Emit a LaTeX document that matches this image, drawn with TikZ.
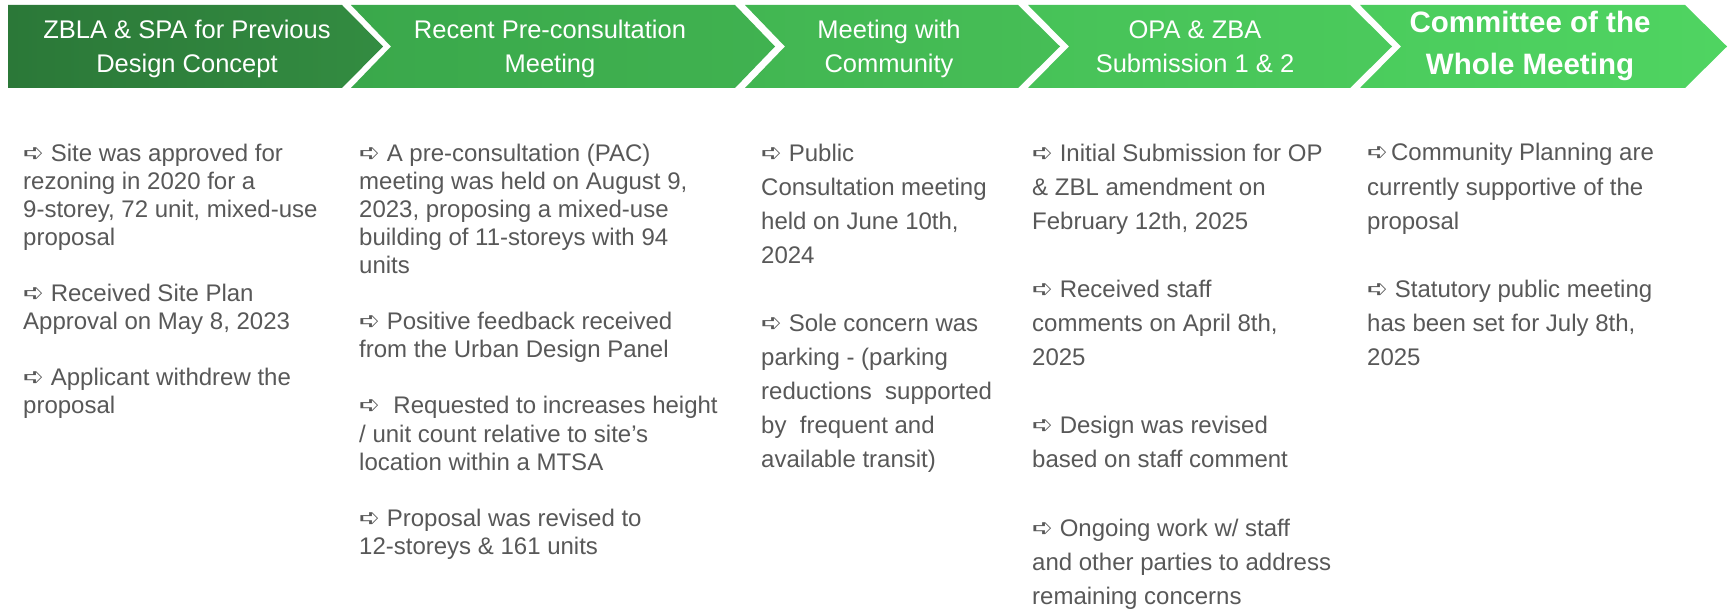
\documentclass[tikz,border=0pt]{standalone}
\usepackage{fontspec}
\setmainfont{Liberation Sans}
\newfontfamily\dejavu{DejaVu Sans}
\definecolor{txt}{RGB}{88,88,88}
\definecolor{gA1}{RGB}{43,120,56}
\definecolor{gA2}{RGB}{51,140,65}
\definecolor{gB1}{RGB}{58,168,75}
\definecolor{gB2}{RGB}{64,178,80}
\definecolor{gC1}{RGB}{66,182,82}
\definecolor{gC2}{RGB}{70,190,86}
\definecolor{gD1}{RGB}{71,194,88}
\definecolor{gD2}{RGB}{75,202,92}
\definecolor{gE1}{RGB}{75,204,93}
\definecolor{gE2}{RGB}{79,212,97}
\newcommand\arr{{\dejavu\fontsize{25}{25}\selectfont ➪}}
\begin{document}
\begin{tikzpicture}[x=1pt,y=-1pt,
  hdr/.style={text=white, align=center, anchor=base, inner sep=0pt, font=\fontsize{25.5}{33.5}\selectfont},
  hdrb/.style={text=white, align=center, anchor=base, inner sep=0pt, font=\fontsize{29.5}{42}\selectfont\bfseries},
  bodyA/.style={text=txt, align=left, anchor=base west, inner sep=0pt, font=\fontsize{24}{28.1}\selectfont},
  bodyB/.style={text=txt, align=left, anchor=base west, inner sep=0pt, font=\fontsize{24}{34.1}\selectfont}]
\fill[white] (0,0) rectangle (1733,609);
\useasboundingbox (0,0) rectangle (1733,609);

% chevrons
\shade[left color=gA1, right color=gA2] (8,5) -- (342,5) -- (383,46.5) -- (342,88) -- (8,88) -- cycle;
\shade[left color=gB1, right color=gB2] (351,5) -- (735,5) -- (775,46.5) -- (735,88) -- (351,88) -- (391,46.5) -- cycle;
\shade[left color=gC1, right color=gC2] (745,5) -- (1018,5) -- (1060,46.5) -- (1018,88) -- (745,88) -- (785,46.5) -- cycle;
\shade[left color=gD1, right color=gD2] (1028,5) -- (1350,5) -- (1392,46.5) -- (1350,88) -- (1028,88) -- (1069,46.5) -- cycle;
\shade[left color=gE1, right color=gE2] (1360,5) -- (1685,5) -- (1727,46.5) -- (1685,88) -- (1360,88) -- (1401,46.5) -- cycle;

% headers (anchor = baseline of last line)
\node[hdr] (h1) at (187,72.5) {ZBLA \& SPA for Previous\\Design Concept};
\node[hdr] (h2) at (550,72.5) {Recent Pre-consultation\\Meeting};
\node[hdr] (h3) at (889,72.5) {Meeting with\\Community};
\node[hdr] (h4) at (1195,72.5) {OPA \& ZBA\\Submission 1 \& 2};
\node[hdrb] (h5) at (1530,75) {Committee of the\\Whole Meeting};

% bodies (anchor = baseline of last line)
\node[bodyA] (b1) at (23,413.9) {\arr\ Site was approved for\\
rezoning in 2020 for a\\
9-storey, 72 unit, mixed-use\\
proposal\\[28.1pt]
\arr\ Received Site Plan\\
Approval on May 8, 2023\\[28.1pt]
\arr\ Applicant withdrew the\\
proposal};

\node[bodyA] (b2) at (359,554.4) {\arr\ A pre-consultation (PAC)\\
meeting was held on August 9,\\
2023, proposing a mixed-use\\
building of 11-storeys with 94\\
units\\[28.1pt]
\arr\ Positive feedback received\\
from the Urban Design Panel\\[28.1pt]
\arr\ \ Requested to increases height\\
/ unit count relative to site’s\\
location within a MTSA\\[28.1pt]
\arr\ Proposal was revised to\\
12-storeys \& 161 units};

\node[bodyB] (b3) at (761,467.9) {\arr\ Public\\
Consultation meeting\\
held on June 10th,\\
2024\\[34.1pt]
\arr\ Sole concern was\\
parking - (parking\\
reductions\ \ supported\\
by\ \ frequent and\\
available transit)};

\node[bodyB] (b4) at (1032,604.3) {\arr\ Initial Submission for OP\\
\& ZBL amendment on\\
February 12th, 2025\\[34.1pt]
\arr\ Received staff\\
comments on April 8th,\\
2025\\[34.1pt]
\arr\ Design was revised\\
based on staff comment\\[34.1pt]
\arr\ Ongoing work w/ staff\\
and other parties to address\\
remaining concerns};

\node[bodyB] (b5) at (1367,365.6) {\arr\hspace{3pt}Community Planning are\\
currently supportive of the\\
proposal\\[34.1pt]
\arr\ Statutory public meeting\\
has been set for July 8th,\\
2025};
\end{tikzpicture}
\end{document}
